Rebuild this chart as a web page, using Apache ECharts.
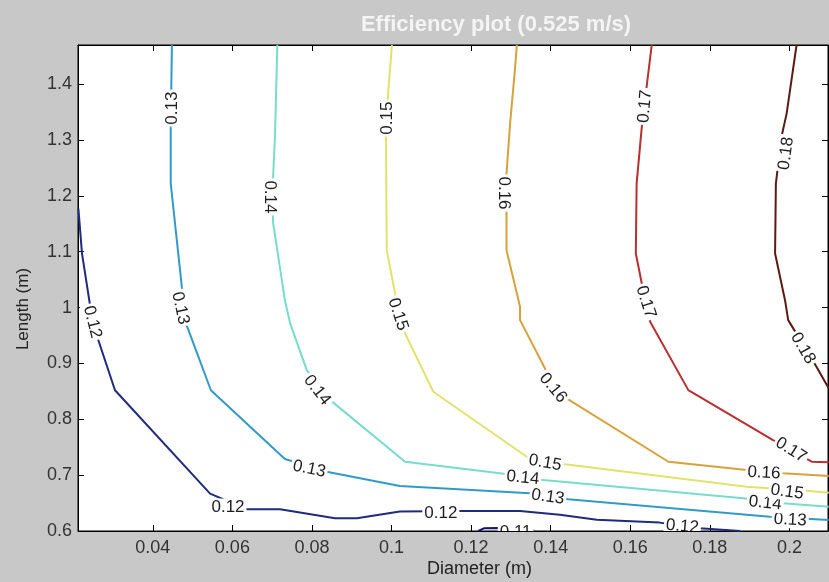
<!DOCTYPE html>
<html>
<head>
<meta charset="utf-8">
<script src="https://cdn.jsdelivr.net/npm/echarts@6/dist/echarts.min.js"></script>
<style>
  html, body { margin: 0; padding: 0; background: #c8c8c8; }
  #main { width: 829px; height: 582px; }
</style>
</head>
<body>
<div id="main"></div>
<script>
// axis ranges and ticks
var xMin = 0.0212, xMax = 0.2097;
var yMin = 0.6, yMax = 1.47;
var xTicks = [0.04, 0.06, 0.08, 0.1, 0.12, 0.14, 0.16, 0.18, 0.2];
var yTicks = [0.6, 0.7, 0.8, 0.9, 1.0, 1.1, 1.2, 1.3, 1.4];

// contour levels, [diameter, length] points
var levels = ['0.11', '0.12', '0.13', '0.14', '0.15', '0.16', '0.17', '0.18'];
var c011 = [[0.1218, 0.600], [0.1232, 0.6048], [0.1268, 0.6054], [0.1345, 0.6045], [0.1358, 0.600]];
var c012 = [[0.0213, 1.177], [0.0222, 1.097], [0.0243, 1.001], [0.0263, 0.942], [0.0305, 0.852], [0.0544, 0.667],
  [0.0636, 0.639], [0.0720, 0.639], [0.0858, 0.623], [0.0913, 0.623], [0.1021, 0.635], [0.1176, 0.636],
  [0.1323, 0.636], [0.1423, 0.629], [0.1516, 0.620], [0.1674, 0.615], [0.1775, 0.605], [0.1876, 0.600]];
var c013 = [[0.0448, 1.47], [0.0445, 1.323], [0.0445, 1.2225], [0.0473, 1.0365], [0.0485, 0.9685], [0.0546, 0.852],
  [0.0732, 0.729], [0.0837, 0.706], [0.1021, 0.6805], [0.1348, 0.6674], [0.1444, 0.6567], [0.1951, 0.6256], [0.2099, 0.6197]];
var c014 = [[0.0713, 1.47], [0.0707, 1.3048], [0.0702, 1.2279], [0.0702, 1.1533], [0.0732, 1.0132], [0.0745, 0.9721],
  [0.0787, 0.888], [0.0846, 0.8343], [0.1034, 0.724], [0.1273, 0.7032], [0.1381, 0.6912], [0.1884, 0.6585],
  [0.1984, 0.6496], [0.2099, 0.6435]];
var c015 = [[0.1001, 1.47], [0.0992, 1.3889], [0.0986, 1.2995], [0.0988, 1.1027], [0.1009, 1.0252], [0.1034, 0.9537],
  [0.1105, 0.8492], [0.1340, 0.7329], [0.1436, 0.7193], [0.1893, 0.6792], [0.2043, 0.6721], [0.2099, 0.6685]];
var c016 = [[0.1315, 1.47], [0.1310, 1.4247], [0.1298, 1.3293], [0.1289, 1.2399], [0.1289, 1.1683], [0.1289, 1.1027],
  [0.1323, 1.0013], [0.1323, 0.9775], [0.1390, 0.885], [0.1440, 0.8374], [0.1696, 0.724], [0.1893, 0.7091],
  [0.1984, 0.7032], [0.2099, 0.6984]];
var c017 = [[0.1654, 1.47], [0.1641, 1.3948], [0.1629, 1.3233], [0.1616, 1.222], [0.1614, 1.0968], [0.1629, 1.0431],
  [0.1650, 0.9744], [0.1746, 0.8522], [0.1959, 0.7628], [0.2056, 0.724], [0.2099, 0.7229]];
var c018 = [[0.2018, 1.47], [0.1993, 1.3472], [0.1980, 1.3054], [0.1966, 1.222], [0.1964, 1.0968], [0.1989, 1.0132],
  [0.1997, 0.9775], [0.2068, 0.8939], [0.2099, 0.8553]];

// inline labels: [diameter, length, text, angle]
var labels = [
  [0.1312, 0.5975, '0.11', 0],
  [0.0248, 0.974, '0.12', -76], [0.0589, 0.643, '0.12', 0], [0.1124, 0.632, '0.12', 0], [0.1731, 0.608, '0.12', -5],
  [0.0449, 1.357, '0.13', 90], [0.0469, 0.999, '0.13', -78], [0.0793, 0.711, '0.13', -12], [0.1393, 0.661, '0.13', -8], [0.2002, 0.620, '0.13', -3],
  [0.0695, 1.198, '0.14', -90], [0.0813, 0.852, '0.14', -52], [0.1330, 0.695, '0.14', -6], [0.1939, 0.650, '0.14', -6],
  [0.0989, 1.339, '0.15', 90], [0.1016, 0.988, '0.15', -72], [0.1386, 0.722, '0.15', -10], [0.1994, 0.670, '0.15', -8],
  [0.1283, 1.205, '0.16', -90], [0.1406, 0.856, '0.16', -50], [0.1936, 0.704, '0.16', -3],
  [0.1637, 1.360, '0.17', 85], [0.1639, 1.010, '0.17', -72], [0.2004, 0.745, '0.17', -32],
  [0.1992, 1.276, '0.18', 82], [0.2034, 0.927, '0.18', -60]
];

var lineData = [c011, c012, c013, c014, c015, c016, c017, c018];
var lineColors = ['#14166e', '#1f2b7c', '#3399c8', '#77dcca', '#dfe36e', '#d7a23c', '#b8302e', '#5c1a14'];

var font = '"Liberation Sans", Arial, sans-serif';
var myChart = echarts.init(document.getElementById('main'));

var series = [];
for (var i = 0; i < levels.length; i++) {
  series.push({
    name: levels[i],
    type: 'line',
    data: lineData[i],
    showSymbol: false,
    clip: true,
    silent: true,
    lineStyle: { color: lineColors[i], width: 2 },
    z: 2
  });
}
series.push({
  type: 'custom',
  data: labels.map(function(l) { return [l[0], l[1]]; }),
  clip: true,
  silent: true,
  z: 5,
  renderItem: function(params, api) {
    var p = api.coord([api.value(0), api.value(1)]);
    var lab = labels[params.dataIndex];
    return {
      type: 'text',
      x: p[0],
      y: p[1],
      rotation: lab[3] * Math.PI / 180,
      style: {
        text: lab[2],
        fill: '#1e1e1e',
        font: '17px ' + font,
        align: 'center',
        verticalAlign: 'middle',
        backgroundColor: '#fff',
        padding: [0, 2]
      }
    };
  }
});

var option = {
  backgroundColor: '#c8c8c8',
  animation: false,
  title: {
    text: 'Efficiency plot (0.525 m/s)',
    left: 491,
    top: 9,
    textAlign: 'center',
    textStyle: { color: '#f4f4f4', fontSize: 22, fontWeight: 'bold', fontFamily: font }
  },
  grid: {
    left: 78, top: 45, right: 1, bottom: 51,
    show: true, backgroundColor: '#fff', borderColor: '#000', borderWidth: 1
  },
  xAxis: [{
    type: 'value', min: xMin, max: xMax,
    axisLine: { lineStyle: { color: '#000' } },
    axisTick: { inside: true, length: 6, customValues: xTicks, lineStyle: { color: '#000' } },
    axisLabel: {
      customValues: xTicks, color: '#333', fontSize: 18, fontFamily: font, margin: 8,
      formatter: function(v) { return String(+v.toFixed(2)); }
    },
    splitLine: { show: false }
  }, {
    type: 'value', min: xMin, max: xMax, position: 'top',
    axisLine: { lineStyle: { color: '#000' } },
    axisTick: { inside: true, length: 6, customValues: xTicks, lineStyle: { color: '#000' } },
    axisLabel: { show: false },
    splitLine: { show: false }
  }],
  yAxis: [{
    type: 'value', min: yMin, max: yMax,
    axisLine: { lineStyle: { color: '#000' } },
    axisTick: { inside: true, length: 6, customValues: yTicks, lineStyle: { color: '#000' } },
    axisLabel: {
      customValues: yTicks, color: '#333', fontSize: 18, fontFamily: font, margin: 6,
      formatter: function(v) { return String(+v.toFixed(1)); }
    },
    splitLine: { show: false }
  }, {
    type: 'value', min: yMin, max: yMax, position: 'right',
    axisLine: { lineStyle: { color: '#000' } },
    axisTick: { inside: true, length: 6, customValues: yTicks, lineStyle: { color: '#000' } },
    axisLabel: { show: false },
    splitLine: { show: false }
  }],
  graphic: [{
    type: 'text', left: 480 - 53, top: 560,
    style: { text: 'Diameter (m)', fill: '#222', font: '18px ' + font }
  }, {
    type: 'text', x: 23, y: 309, rotation: Math.PI / 2,
    style: { text: 'Length (m)', fill: '#222', font: '17px ' + font, align: 'center', verticalAlign: 'middle' }
  }],
  series: series
};

myChart.setOption(option);
</script>
</body>
</html>
